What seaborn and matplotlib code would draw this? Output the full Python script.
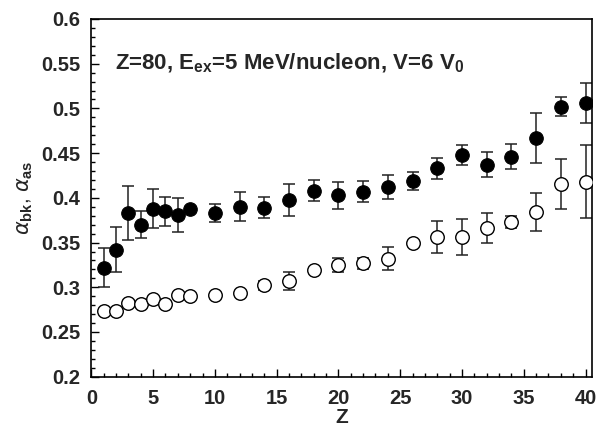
import matplotlib
matplotlib.use("Agg")
import matplotlib.pyplot as plt
from matplotlib.ticker import MultipleLocator
import seaborn as sns
import pandas as pd

Z = [1, 2, 3, 4, 5, 6, 7, 8, 10, 12, 14, 16, 18, 20, 22, 24, 26, 28, 30, 32, 34, 36, 38, 40]
alpha_bk = [0.322, 0.342, 0.383, 0.370, 0.388, 0.385, 0.381, 0.387, 0.383, 0.390, 0.389, 0.398,
            0.408, 0.403, 0.407, 0.412, 0.419, 0.433, 0.448, 0.437, 0.446, 0.467, 0.502, 0.506]
err_bk = [0.022, 0.025, 0.030, 0.015, 0.022, 0.016, 0.019, 0.0, 0.010, 0.016, 0.012, 0.018,
          0.012, 0.015, 0.012, 0.013, 0.010, 0.012, 0.011, 0.014, 0.014, 0.028, 0.011, 0.022]
alpha_as = [0.274, 0.274, 0.282, 0.281, 0.287, 0.281, 0.291, 0.290, 0.291, 0.294, 0.302, 0.307,
            0.319, 0.325, 0.327, 0.332, 0.350, 0.356, 0.356, 0.366, 0.373, 0.384, 0.415, 0.418]
err_as = [0.0, 0.0, 0.0, 0.0, 0.0, 0.0, 0.0, 0.0, 0.0, 0.0, 0.005, 0.010,
          0.0, 0.008, 0.006, 0.013, 0.0, 0.018, 0.020, 0.017, 0.007, 0.021, 0.028, 0.041]
yticks = [0.2, 0.25, 0.3, 0.35, 0.4, 0.45, 0.5, 0.55, 0.6]
yticklabels = ["0.2", "0.25", "0.3", "0.35", "0.4", "0.45", "0.5", "0.55", "0.6"]

df = pd.DataFrame({"Z": Z, "bk": alpha_bk, "ebk": err_bk, "as": alpha_as, "eas": err_as})

sns.set_style("ticks")
plt.rcParams["font.family"] = ["Liberation Sans", "DejaVu Sans"]
plt.rcParams["mathtext.fontset"] = "custom"
plt.rcParams["mathtext.rm"] = "Liberation Sans"
plt.rcParams["mathtext.bf"] = "Liberation Sans:bold"

fig = plt.figure(figsize=(6.01, 4.26), dpi=100)
ax = fig.add_axes([0.152, 0.1157, 0.8325, 0.8397])

ecol = "#222222"
ax.errorbar(df["Z"], df["bk"], yerr=df["ebk"], fmt="none", ecolor=ecol,
            elinewidth=1.1, capsize=4.3, capthick=1.1, zorder=2)
ax.errorbar(df["Z"], df["as"], yerr=df["eas"], fmt="none", ecolor=ecol,
            elinewidth=1.1, capsize=4.3, capthick=1.1, zorder=2)
sns.scatterplot(data=df, x="Z", y="bk", ax=ax, s=95, color="black",
                edgecolor="black", linewidth=0.8, zorder=3)
sns.scatterplot(data=df, x="Z", y="as", ax=ax, s=95, color="white",
                edgecolor="black", linewidth=1.0, zorder=3)

ax.set_xlim(0, 40.5)
ax.set_ylim(0.2, 0.6)
ax.xaxis.set_major_locator(MultipleLocator(5))
ax.xaxis.set_minor_locator(MultipleLocator(1))
ax.set_yticks(yticks)
ax.set_yticklabels(yticklabels)
ax.yaxis.set_minor_locator(MultipleLocator(0.01))
ax.tick_params(which="both", direction="in", top=False, right=False, width=1.0, color="black")
ax.tick_params(which="major", length=6, labelsize=14.5)
ax.tick_params(axis="y", which="major", pad=8)
ax.tick_params(axis="x", which="major", pad=9)
ax.tick_params(which="minor", length=3)
for lab in ax.get_xticklabels() + ax.get_yticklabels():
    lab.set_fontweight("bold")
for sp in ax.spines.values():
    sp.set_linewidth(1.2)
    sp.set_color("black")

ax.set_xlabel("Z", fontsize=15, fontweight="bold", labelpad=0)
ax.set_ylabel(r"$\alpha_{\mathbf{bk}}$, $\alpha_{\mathbf{as}}$", fontsize=15, labelpad=4)

ax.text(0.047, 0.877, r"Z=80, E$_{\mathbf{ex}}$=5 MeV/nucleon, V=6 V$_{\mathbf{0}}$",
        transform=ax.transAxes, fontsize=16, fontweight="bold", ha="left", va="center")

fig.savefig("out.png", dpi=100)
